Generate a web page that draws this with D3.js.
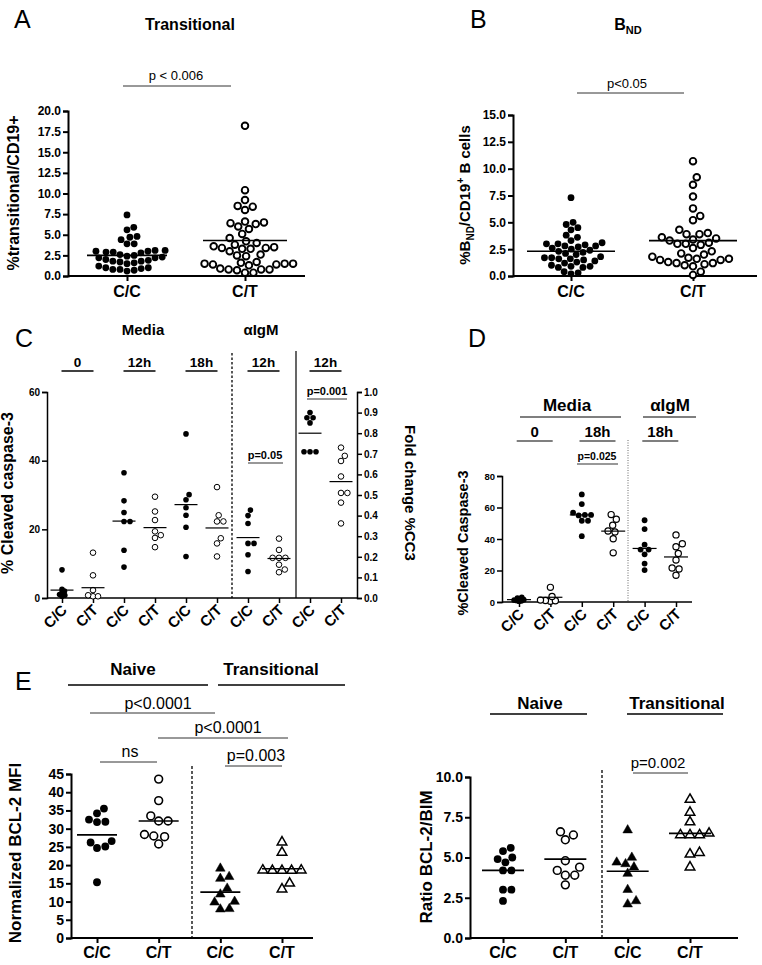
<!DOCTYPE html>
<html><head><meta charset="utf-8">
<script src="https://cdn.jsdelivr.net/npm/d3@7"></script>
<style>body{margin:0;background:#fff}svg{display:block}</style>
</head><body><svg id="c" width="762" height="965"></svg>
<script>
// ---------------- DATA ----------------
const genotypes = ["C/C", "C/T"];
// Panel A: % transitional / CD19+
const aTicks = [0, 2.5, 5, 7.5, 10, 12.5, 15, 17.5, 20];
const aCC = [7.4, 5.9, 5.6, 4.8, 4.7, 4.4, 3.9, 3.9, 3.1, 3.1, 3.0, 3.0, 2.9, 2.9, 2.8, 2.6, 2.5, 2.4, 2.3, 2.2, 2.2, 2.0, 1.9, 1.8, 1.8, 1.7, 1.6, 1.5, 1.2, 1.0, 1.0, 0.9, 0.8, 0.8, 0.7, 0.6];
const aCT = [18.2, 10.4, 9.2, 8.5, 8.4, 8.0, 6.6, 6.5, 6.4, 6.3, 6.0, 5.7, 5.1, 4.6, 4.2, 4.0, 3.8, 3.6, 3.5, 3.4, 3.4, 3.3, 3.3, 3.0, 2.6, 2.5, 2.4, 1.7, 1.6, 1.5, 1.5, 1.5, 1.4, 1.4, 1.3, 0.9, 0.8, 0.8, 0.8, 0.7, 0.4, 0.4];
const aMeans = [2.5, 4.3];
// Panel B: % BND / CD19+ B cells
const bTicks = [0, 2.5, 5, 7.5, 10, 12.5, 15];
const bCC = [7.3, 5.0, 4.8, 4.5, 4.3, 3.8, 3.6, 3.3, 3.1, 3.0, 3.0, 2.9, 2.8, 2.8, 2.7, 2.6, 2.5, 2.4, 2.3, 2.2, 2.1, 2.0, 1.8, 1.7, 1.7, 1.6, 1.6, 1.5, 1.4, 1.3, 1.2, 1.0, 0.9, 0.9, 0.8, 0.8, 0.4, 0.3, 0.2];
const bCT = [10.7, 9.2, 8.5, 7.4, 6.3, 5.6, 5.2, 4.3, 4.0, 3.9, 3.9, 3.6, 3.5, 3.4, 3.3, 3.1, 3.0, 3.0, 2.9, 2.6, 2.3, 2.1, 2.0, 1.8, 1.7, 1.6, 1.6, 1.5, 1.5, 1.3, 1.2, 1.2, 1.1, 1.0, 0.9, 0.4, 0.1];
const bMeans = [2.3, 3.3];
// Panel C: % cleaved caspase-3 (left axis) and fold change (right axis, last two groups)
const cLabels = ["C/C", "C/T", "C/C", "C/T", "C/C", "C/T", "C/C", "C/T", "C/C", "C/T"];
const cTimes = ["0", "12h", "18h", "12h", "12h"];
const cLeftTicks = [0, 20, 40, 60];
const cRightTicks = [0, 0.1, 0.2, 0.3, 0.4, 0.5, 0.6, 0.7, 0.8, 0.9, 1.0];
const c0CC = [8.2, 2.5, 2.0, 1.5, 1.0, 0.8, 0.5];
const c0CT = [13.2, 6.6, 2.3, 0.8, 0.5, 0.5];
const c12CC = [36.5, 28.3, 24.9, 22.3, 22.3, 13.9, 9.0];
const c12CT = [29.5, 25.2, 22.7, 19.4, 18.3, 17.5, 14.8];
const c18CC = [47.8, 30.1, 28.6, 26.3, 24.1, 20.6, 12.1];
const c18CT = [32.3, 24.1, 22.3, 22.3, 17.4, 15.9, 12.1];
const cIgCC = [25.6, 24.0, 21.7, 15.9, 15.9, 12.6, 7.7];
const cIgCT = [17.3, 14.0, 11.7, 11.7, 11.7, 9.7, 8.3, 7.5];
const cFoldCC = [0.90, 0.875, 0.875, 0.85, 0.71, 0.71, 0.71];
const cFoldCT = [0.73, 0.69, 0.665, 0.59, 0.51, 0.51, 0.463, 0.362];
const cMeans = [2.3, 3.0, 22.4, 20.5, 27.2, 20.4, 17.6, 11.5, 0.80, 0.565];
// Panel D: % cleaved caspase-3
const dLabels = ["C/C", "C/T", "C/C", "C/T", "C/C", "C/T"];
const dTimes = ["0", "18h", "18h"];
const dTicks = [0, 20, 40, 60, 80];
const d0CC = [3.0, 2.5, 2.0, 1.5, 1.2, 1.0, 0.8, 0.5];
const d0CT = [9.3, 3.5, 1.2, 1.0, 0.8, 0.5];
const d18CC = [68.3, 62.2, 56.7, 55.3, 55.0, 55.3, 51.6, 51.6, 41.8];
const d18CT = [55.5, 52.5, 48.7, 45.1, 44.5, 40.2, 31.2];
const dIgCC = [51.9, 46.3, 36.4, 33.3, 33.3, 30.3, 24.4, 20.3];
const dIgCT = [42.6, 37.0, 35.1, 30.8, 26.6, 21.6, 21.0, 17.0];
const dMeans = [1.5, 3.0, 55.3, 45.0, 34.0, 28.6];
// Panel E left: normalized BCL-2 MFI
const eLabels = ["C/C", "C/T", "C/C", "C/T"];
const eBclTicks = [0, 5, 10, 15, 20, 25, 30, 35, 40, 45];
const eBclNaiveCC = [35.5, 34.2, 32.5, 31.9, 31.8, 26.6, 26.2, 25.1, 24.7, 15.3];
const eBclNaiveCT = [43.6, 37.7, 33.5, 32.1, 32.1, 28.4, 28.0, 27.8, 25.8];
const eBclTransCC = [19.1, 16.8, 16.3, 13.6, 12.0, 10.0, 9.8, 8.0, 7.9];
const eBclTransCT = [26.3, 23.5, 18.6, 18.5, 18.5, 18.6, 18.5, 15.0, 13.4];
const eBclMeans = [28.3, 32.1, 12.6, 19.0];
// Panel E right: ratio BCL-2/BIM
const eRatioTicks = [0, 2.5, 5, 7.5, 10];
const eRatioNaiveCC = [5.6, 5.4, 5.0, 4.9, 4.7, 4.2, 4.2, 3.0, 3.0, 2.3];
const eRatioNaiveCT = [6.6, 6.4, 6.1, 4.8, 4.4, 4.2, 3.9, 3.9, 3.3];
const eRatioTransCC = [6.7, 5.0, 4.7, 4.6, 4.4, 4.0, 3.0, 2.3, 2.1];
const eRatioTransCT = [8.6, 7.8, 7.2, 6.5, 6.4, 6.4, 6.4, 5.3, 5.2, 4.4];
const eRatioMeans = [4.2, 4.9, 4.15, 6.5];

// ---------------- HELPERS ----------------
const svg = d3.select('#c');
const FONT = 'Arial, "Liberation Sans", Helvetica, sans-serif';

function txt(x, y, s, o = {}) {
  const t = svg.append('text').attr('x', x).attr('y', y)
    .attr('text-anchor', o.anchor || 'middle')
    .attr('font-size', o.size || 12).attr('font-weight', o.bold ? 'bold' : 'normal')
    .attr('font-family', FONT).attr('fill', '#000');
  if (o.rot) t.attr('transform', `rotate(${o.rot},${x},${y})`);
  if (s !== null) t.text(s);
  return t;
}
function line(x1, y1, x2, y2, w = 1, c = '#000', dash = null) {
  const l = svg.append('line').attr('x1', x1).attr('y1', y1).attr('x2', x2).attr('y2', y2)
    .attr('stroke', c).attr('stroke-width', w);
  if (dash) l.attr('stroke-dasharray', dash);
  return l;
}
function yAxis(y, x, ticks, fmt, fs, sw, right = false) {
  const ax = (right ? d3.axisRight(y) : d3.axisLeft(y)).tickValues(ticks).tickFormat(fmt)
    .tickSizeOuter(0).tickSize(5).tickPadding(2);
  const g = svg.append('g').attr('transform', `translate(${x},0)`).call(ax);
  g.attr('font-family', FONT).attr('font-size', fs).attr('font-weight', 'bold');
  g.select('.domain').attr('stroke-width', sw).attr('stroke', '#000');
  g.selectAll('.tick line').attr('stroke-width', sw).attr('stroke', '#000');
  g.selectAll('.tick text').attr('fill', '#000');
  return g;
}
function xAxis(xs, x1, x2, y0, sw, tick = 5) {
  line(x1, y0, x2, y0, sw);
  const g = svg.append('g').attr('transform', `translate(0,${y0})`)
    .call(d3.axisBottom(xs).tickSize(tick).tickFormat(''));
  g.select('.domain').remove();
  g.selectAll('.tick line').attr('stroke-width', sw).attr('stroke', '#000');
}
// beeswarm: place each point as close to center as possible without overlap
function swarm(values, y, d) {
  const pts = values.map(v => ({ v, y: y(v), dx: 0 })).sort((a, b) => a.v - b.v);
  const placed = [];
  for (const p of pts) {
    const cands = [0];
    for (const q of placed) {
      const dy = Math.abs(q.y - p.y);
      if (dy < d) { const w = Math.sqrt(d * d - dy * dy); cands.push(q.dx + w, q.dx - w); }
    }
    cands.sort((a, b) => Math.abs(a) - Math.abs(b) || b - a);
    for (const c of cands) {
      if (placed.every(q => (q.dx - c) ** 2 + (q.y - p.y) ** 2 >= d * d - 0.01)) { p.dx = c; break; }
    }
    placed.push(p);
  }
  return placed;
}
function group(values, y, cx, m) {
  const pts = swarm(values, y, m.d);
  const g = svg.append('g');
  pts.forEach(p => {
    const x = cx + p.dx;
    if (m.type === 'dot') g.append('circle').attr('cx', x).attr('cy', p.y).attr('r', m.r).attr('fill', '#000');
    else if (m.type === 'ring') g.append('circle').attr('cx', x).attr('cy', p.y).attr('r', m.r)
      .attr('fill', '#fff').attr('stroke', '#000').attr('stroke-width', m.sw);
    else {
      g.append('path').attr('d', d3.symbol(d3.symbolTriangle, m.size)())
        .attr('transform', `translate(${x},${p.y})`)
        .attr('fill', m.type === 'tri' ? '#000' : '#fff')
        .attr('stroke', '#000').attr('stroke-width', m.type === 'tri' ? 0.5 : m.sw);
    }
  });
}
function meanLine(y, v, cx, half, w) { line(cx - half, y(v), cx + half, y(v), w); }
function sig(label, cx, ty, x1, x2, ly, o) {
  txt(cx, ty, label, o);
  line(x1, ly, x2, ly, o.lw || 1, o.lc || '#333');
}

// ---------------- PANEL A ----------------
{
  txt(14, 28, 'A', { size: 25, anchor: 'start' });
  txt(190, 30, 'Transitional', { size: 16, bold: true });
  sig('p < 0.006', 176, 80, 123, 231, 86, { size: 13 });
  const y = d3.scaleLinear().domain([0, 20]).range([276, 111]);
  const xs = d3.scalePoint().domain(genotypes).range([127, 245]);
  yAxis(y, 68, aTicks, d3.format('.1f'), 12, 2);
  xAxis(xs, 68, 305, 276, 2);
  genotypes.forEach(gn => txt(xs(gn), 297, gn, { size: 16, bold: true }));
  txt(19, 193, '%transitional/CD19+', { size: 16, bold: true, rot: -90 });
  group(aCC, y, xs('C/C'), { type: 'dot', r: 3.4, d: 7.2 });
  group(aCT, y, xs('C/T'), { type: 'ring', r: 3.3, sw: 1.9, d: 8.4 });
  meanLine(y, aMeans[0], xs('C/C'), 40, 1.6);
  meanLine(y, aMeans[1], xs('C/T'), 42, 1.6);
}
// ---------------- PANEL B ----------------
{
  txt(470, 28, 'B', { size: 25, anchor: 'start' });
  const t = txt(628, 30, null, { size: 16, bold: true });
  t.append('tspan').text('B');
  t.append('tspan').attr('font-size', 11).attr('dy', 4).text('ND');
  sig('p<0.05', 627, 88, 577, 684, 93, { size: 13 });
  const y = d3.scaleLinear().domain([0, 15]).range([276, 115]);
  const xs = d3.scalePoint().domain(genotypes).range([571, 693]);
  yAxis(y, 513, bTicks, d3.format('.1f'), 12, 2);
  xAxis(xs, 513, 757, 276, 2);
  genotypes.forEach(gn => txt(xs(gn), 297, gn, { size: 16, bold: true }));
  const yl = txt(470, 195, null, { size: 15, bold: true, rot: -90 });
  yl.append('tspan').text('%B');
  yl.append('tspan').attr('font-size', 10).attr('dy', 4).text('ND');
  yl.append('tspan').attr('dy', -4).text('/CD19');
  yl.append('tspan').attr('font-size', 10).attr('dy', -6).text('+');
  yl.append('tspan').attr('dy', 6).text(' B cells');
  group(bCC, y, xs('C/C'), { type: 'dot', r: 3.4, d: 7.2 });
  group(bCT, y, xs('C/T'), { type: 'ring', r: 3.3, sw: 1.9, d: 8.4 });
  meanLine(y, bMeans[0], xs('C/C'), 44, 1.6);
  meanLine(y, bMeans[1], xs('C/T'), 44, 1.6);
}
// ---------------- PANEL C ----------------
{
  txt(15, 347, 'C', { size: 25, anchor: 'start' });
  txt(143, 335, 'Media', { size: 15, bold: true });
  txt(261, 335, 'αIgM', { size: 15, bold: true });
  const y = d3.scaleLinear().domain([0, 60]).range([598, 392]);
  const yr = d3.scaleLinear().domain([0, 1]).range([598, 392]);
  const xs = d3.scalePoint().domain(d3.range(cLabels.length)).range([62, 341]);
  cTimes.forEach((tm, k) => {
    const cx = (xs(2 * k) + xs(2 * k + 1)) / 2;
    txt(cx, 367, tm, { size: 13.5, bold: true });
    line(cx - 16, 371, cx + 16, 371, 1.3);
  });
  yAxis(y, 47, cLeftTicks, d3.format('d'), 10, 1.5);
  yAxis(yr, 357, cRightTicks, d3.format('.1f'), 10, 1.5, true);
  xAxis(xs, 47, 357, 598, 1.5);
  line(232, 353, 232, 598, 1.3, '#000', '2.5,2');
  line(296, 351, 296, 598, 1.2);
  cLabels.forEach((l, i) => txt(xs(i) + 6, 611, l, { size: 15, bold: true, anchor: 'end', rot: -45 }));
  txt(13, 493, '% Cleaved caspase-3', { size: 16, bold: true, rot: -90 });
  txt(405, 493, 'Fold change %CC3', { size: 15, bold: true, rot: 90 });
  sig('p=0.05', 265, 459, 248, 283, 463, { size: 11, bold: true, lw: 1.2 });
  sig('p=0.001', 327, 395, 307, 347, 399, { size: 11, bold: true, lw: 1.2 });
  const dot = { type: 'dot', r: 2.8, d: 6 }, ring = { type: 'ring', r: 2.8, sw: 1, d: 6.4 };
  const groups = [c0CC, c0CT, c12CC, c12CT, c18CC, c18CT, cIgCC, cIgCT];
  groups.forEach((vals, i) => {
    let m = i % 2 ? ring : dot;
    if (i === 0) m = { ...dot, d: 3 };
    if (i === 1) m = { ...ring, d: 5 };
    group(vals, y, xs(i), m);
    meanLine(y, cMeans[i], xs(i), 11.5, 1.2);
  });
  group(cFoldCC, yr, xs(8), dot); meanLine(yr, cMeans[8], xs(8), 11.5, 1.2);
  group(cFoldCT, yr, xs(9), ring); meanLine(yr, cMeans[9], xs(9), 11.5, 1.2);
}
// ---------------- PANEL D ----------------
{
  txt(468, 347, 'D', { size: 25, anchor: 'start' });
  const y = d3.scaleLinear().domain([0, 80]).range([602, 476]);
  const xs = d3.scalePoint().domain(d3.range(dLabels.length)).range([519, 676]);
  txt(567, 411, 'Media', { size: 17, bold: true });
  line(520, 417, 621, 417, 1.2);
  txt(670, 411, 'αIgM', { size: 17, bold: true });
  line(643, 417, 696, 417, 1.2);
  dTimes.forEach((tm, k) => {
    const cx = (xs(2 * k) + xs(2 * k + 1)) / 2;
    txt(cx, 437, tm, { size: 15, bold: true });
    line(cx - 18, 441, cx + 18, 441, 1.2);
  });
  sig('p=0.025', 597, 460, 577, 618, 464, { size: 10.5, bold: true, lw: 1.2 });
  yAxis(y, 502, dTicks, d3.format('d'), 9.5, 1.5);
  xAxis(xs, 502, 692, 602, 1.5);
  line(628, 440, 628, 602, 0.8, '#444', '1,1.5');
  dLabels.forEach((l, i) => txt(xs(i) + 6, 615, l, { size: 15, bold: true, anchor: 'end', rot: -45 }));
  txt(468, 543, '%Cleaved Caspase-3', { size: 14.5, bold: true, rot: -90 });
  const dot = { type: 'dot', r: 2.9, d: 6.2 }, ring = { type: 'ring', r: 3.1, sw: 1.2, d: 7 };
  [d0CC, d0CT, d18CC, d18CT, dIgCC, dIgCT].forEach((vals, i) => {
    let m = i % 2 ? ring : dot;
    if (i === 0) m = { ...dot, d: 2.5 };
    if (i === 1) m = { ...ring, d: 5 };
    group(vals, y, xs(i), m);
    meanLine(y, dMeans[i], xs(i), 12, 1.2);
  });
}
// ---------------- PANEL E left ----------------
{
  txt(15, 690, 'E', { size: 25, anchor: 'start' });
  txt(133, 675, 'Naive', { size: 17, bold: true });
  line(68, 685, 208, 685, 1.3);
  txt(271, 675, 'Transitional', { size: 17, bold: true });
  line(218, 685, 345, 685, 1.3);
  const y = d3.scaleLinear().domain([0, 45]).range([938, 774]);
  const xs = d3.scalePoint().domain(d3.range(eLabels.length)).range([97, 282]);
  sig('p<0.0001', 158, 709, 90, 215, 713, { size: 16 });
  sig('p<0.0001', 228, 733, 158, 288, 738, { size: 16 });
  sig('ns', 130, 757, 100, 157, 762, { size: 16 });
  sig('p=0.003', 256, 761, 225, 282, 766, { size: 16 });
  yAxis(y, 71, eBclTicks, d3.format('d'), 14, 2);
  xAxis(xs, 71, 313, 938, 2);
  line(192, 766, 192, 938, 1.3, '#000', '3,2');
  eLabels.forEach((l, i) => txt(xs(i), 958, l, { size: 16, bold: true }));
  txt(21, 853, 'Normalized BCL-2 MFI', { size: 17, bold: true, rot: -90 });
  group(eBclNaiveCC, y, xs(0), { type: 'dot', r: 3.9, d: 8.4 });
  group(eBclNaiveCT, y, xs(1), { type: 'ring', r: 3.9, sw: 1.6, d: 9.4 });
  group(eBclTransCC, y, xs(2), { type: 'tri', size: 40, d: 9 });
  group(eBclTransCT, y, xs(3), { type: 'otri', size: 40, sw: 1.5, d: 9.6 });
  eBclMeans.forEach((m, i) => meanLine(y, m, xs(i), 20, 1.6));
}
// ---------------- PANEL E right ----------------
{
  txt(540, 709, 'Naive', { size: 17, bold: true });
  line(490, 714, 587, 714, 1.3);
  txt(677, 709, 'Transitional', { size: 17, bold: true });
  line(627, 714, 723, 714, 1.3);
  sig('p=0.002', 658, 768, 633, 688, 773, { size: 15 });
  const y = d3.scaleLinear().domain([0, 10]).range([938, 777]);
  const xs = d3.scalePoint().domain(d3.range(eLabels.length)).range([503, 690]);
  yAxis(y, 470, eRatioTicks, d3.format('.1f'), 14, 2);
  xAxis(xs, 470, 738, 938, 2);
  line(602, 770, 602, 938, 1.3, '#000', '3,2');
  eLabels.forEach((l, i) => txt(xs(i), 958, l, { size: 16, bold: true }));
  txt(432, 857, 'Ratio BCL-2/BIM', { size: 17, bold: true, rot: -90 });
  group(eRatioNaiveCC, y, xs(0), { type: 'dot', r: 3.9, d: 8.4 });
  group(eRatioNaiveCT, y, xs(1), { type: 'ring', r: 3.9, sw: 1.6, d: 9.4 });
  group(eRatioTransCC, y, xs(2), { type: 'tri', size: 40, d: 9 });
  group(eRatioTransCT, y, xs(3), { type: 'otri', size: 40, sw: 1.5, d: 9.6 });
  eRatioMeans.forEach((m, i) => meanLine(y, m, xs(i), 21, 1.6));
}
</script></body></html>
